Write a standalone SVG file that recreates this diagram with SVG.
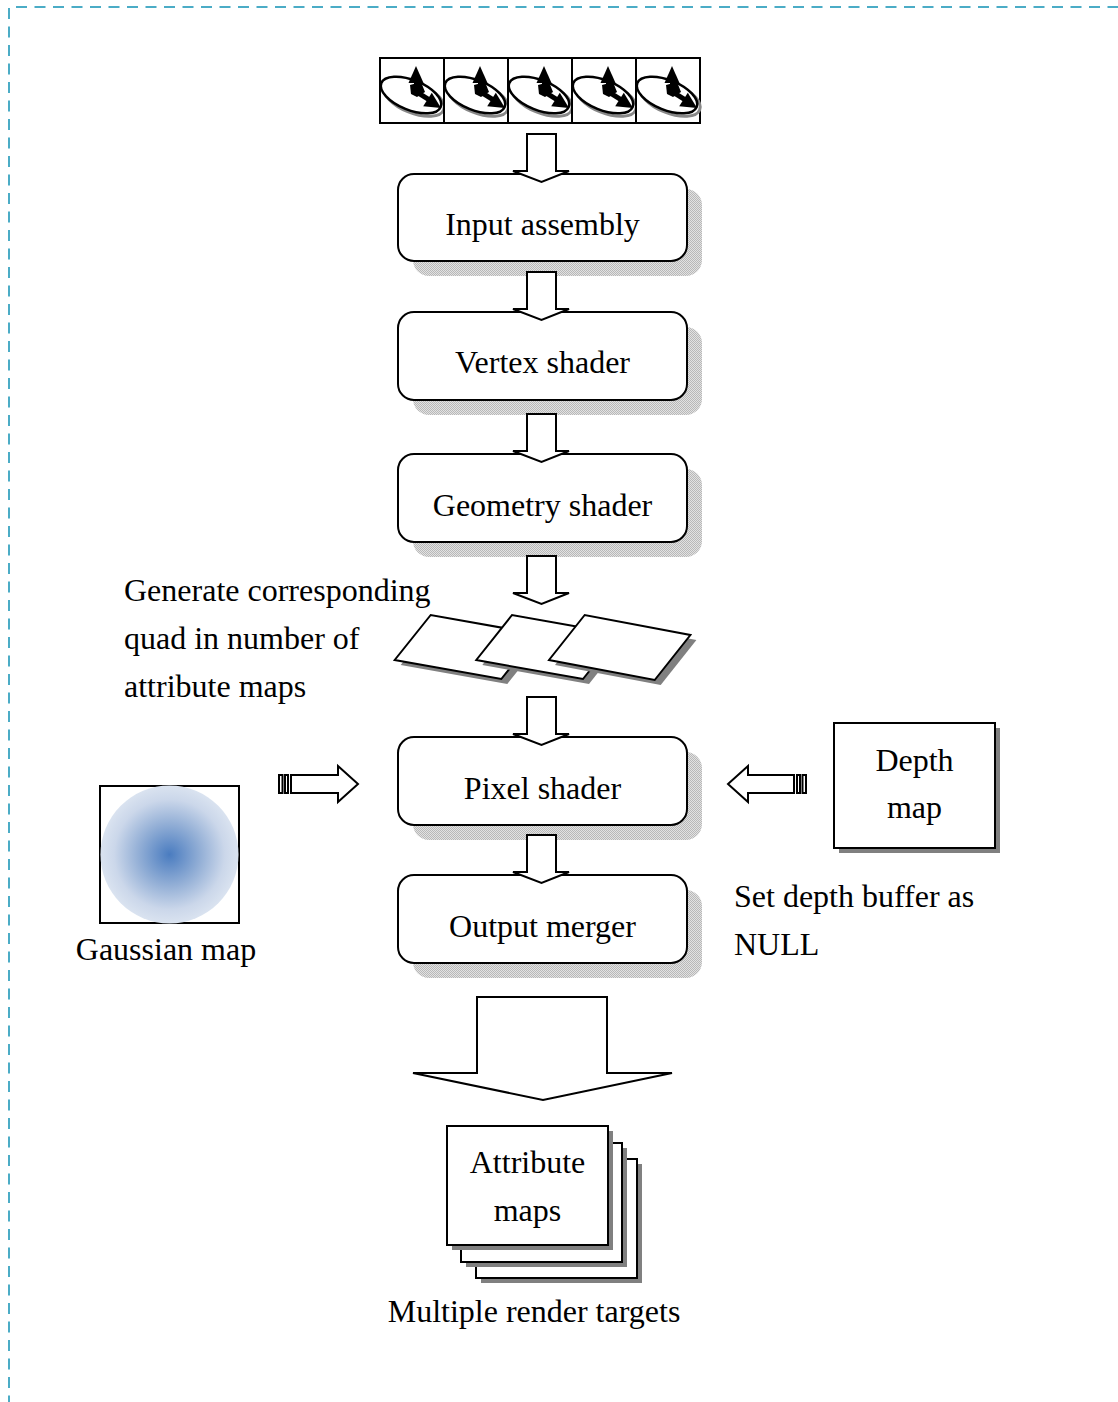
<svg xmlns="http://www.w3.org/2000/svg" xmlns:xlink="http://www.w3.org/1999/xlink" width="1118" height="1402" viewBox="0 0 1118 1402">
<style>
.t{font-family:"Liberation Serif","Times New Roman",serif;font-size:32px;fill:#000}
.c{text-anchor:middle}
.box{fill:#fff;stroke:#000;stroke-width:2}
.sh{fill:url(#dots)}
.gs{fill:#808080}
.arr{fill:#fff;stroke:#000;stroke-width:2;stroke-linejoin:miter}
.bd{fill:none;stroke:#4bacc6;stroke-width:2;stroke-dasharray:11 7.5}
</style>
<defs>
<pattern id="dots" width="2" height="2" patternUnits="userSpaceOnUse">
<rect width="2" height="2" fill="#e2e2e2"/>
<rect width="1" height="1" fill="#b8b8b8"/>
<rect x="1" y="1" width="1" height="1" fill="#b8b8b8"/>
</pattern>
<radialGradient id="gauss" cx="0.5" cy="0.5" r="0.5">
<stop offset="0" stop-color="#4a7cc0"/>
<stop offset="0.45" stop-color="#93afd6"/>
<stop offset="0.8" stop-color="#cbd7ea"/>
<stop offset="1" stop-color="#dae3f0"/>
</radialGradient>
<g id="cell">
<rect x="0" y="0" width="64" height="65" fill="#fff" stroke="#000" stroke-width="2"/>
<ellipse cx="34" cy="40" rx="32" ry="15" transform="rotate(22 34 40)" fill="none" stroke="#888" stroke-width="3"/>
<ellipse cx="31" cy="37" rx="32" ry="15" transform="rotate(22 31 37)" fill="#fff" stroke="#000" stroke-width="2.5"/>
<path d="M36,8 L28.5,25 L43.5,25 Z" fill="#000"/>
<path d="M34,22 H38 V34 H34 Z" fill="#000"/>
<path d="M30,27 L41,24 L45,34 L37,39 L31,36 Z" fill="#000"/>
<path d="M35,30 L51,40 L48,44 L32,34 Z" fill="#000"/>
<path d="M61,50 L43.2,48.3 L51.8,34.7 Z" fill="#000"/>
</g>
</defs>
<rect width="1118" height="1402" fill="#fff"/>

<g id="border">
<path class="bd" d="M16,7 H1118"/>
<path class="bd" d="M9,8 V1402"/>
</g>

<g id="vertex-strip">
<use xlink:href="#cell" x="380" y="58"/>
<use xlink:href="#cell" x="444" y="58"/>
<use xlink:href="#cell" x="508" y="58"/>
<use xlink:href="#cell" x="572" y="58"/>
<use xlink:href="#cell" x="636" y="58"/>
</g>

<g id="input-assembly">
<rect class="sh" x="413" y="189" width="289" height="87" rx="16"/>
<rect class="box" x="398" y="174" width="289" height="87" rx="16"/>
<text class="t c" x="542.5" y="235">Input assembly</text>
</g>

<g id="vertex-shader">
<rect class="sh" x="413" y="327" width="289" height="88" rx="16"/>
<rect class="box" x="398" y="312" width="289" height="88" rx="16"/>
<text class="t c" x="542.5" y="373">Vertex shader</text>
</g>

<g id="geometry-shader">
<rect class="sh" x="413" y="469" width="289" height="88" rx="16"/>
<rect class="box" x="398" y="454" width="289" height="88" rx="16"/>
<text class="t c" x="542.5" y="516">Geometry shader</text>
</g>

<g id="quads">
<polygon class="gs" points="436.7,620 400.7,665 507.3,684 543.3,639"/>
<polygon class="box" points="430.7,615 394.7,660 501.3,679 537.3,634"/>
<polygon class="gs" points="518,620 482.3,665 589,684 624.7,639"/>
<polygon class="box" points="512,615 476.3,660 583,679 618.7,634"/>
<polygon class="gs" points="590.7,620 555,665 660.7,685 696.4,640"/>
<polygon class="box" points="584.7,615 549,660 654.7,680 690.4,635"/>
</g>

<g id="quad-label">
<text class="t" x="124" y="601">Generate corresponding</text>
<text class="t" x="124" y="649">quad in number of</text>
<text class="t" x="124" y="697">attribute maps</text>
</g>

<g id="pixel-shader">
<rect class="sh" x="413" y="752" width="289" height="88" rx="16"/>
<rect class="box" x="398" y="737" width="289" height="88" rx="16"/>
<text class="t c" x="542.5" y="799">Pixel shader</text>
</g>

<g id="output-merger">
<rect class="sh" x="413" y="890" width="289" height="88" rx="16"/>
<rect class="box" x="398" y="875" width="289" height="88" rx="16"/>
<text class="t c" x="542.5" y="937">Output merger</text>
</g>

<g id="gaussian-map">
<rect class="box" x="100" y="786" width="139" height="137"/>
<circle cx="169.5" cy="854.5" r="69" fill="url(#gauss)"/>
<text class="t c" x="166" y="960">Gaussian map</text>
</g>

<g id="depth-map">
<rect class="gs" x="839" y="728" width="161" height="125"/>
<rect class="box" x="834" y="723" width="161" height="125"/>
<text class="t c" x="914.5" y="771">Depth</text>
<text class="t c" x="914.5" y="818">map</text>
</g>

<g id="depth-note">
<text class="t" x="734" y="907">Set depth buffer as</text>
<text class="t" x="734" y="955">NULL</text>
</g>

<g id="attribute-maps">
<rect class="gs" x="481" y="1164" width="161" height="119"/>
<rect class="box" x="476" y="1159" width="161" height="119"/>
<rect class="gs" x="466" y="1148" width="161" height="119"/>
<rect class="box" x="461" y="1143" width="161" height="119"/>
<rect class="gs" x="452" y="1131" width="161" height="119"/>
<rect class="box" x="447" y="1126" width="161" height="119"/>
<text class="t c" x="527.5" y="1173">Attribute</text>
<text class="t c" x="527.5" y="1221">maps</text>
<text class="t c" x="534" y="1322">Multiple render targets</text>
</g>

<g id="connectors">
<polygon class="arr" points="527,134 556,134 556,171 569,171 541.5,182 513,171 527,171"/>
<polygon class="arr" points="527,272 556,272 556,309 569,309 541.5,320 513,309 527,309"/>
<polygon class="arr" points="527,414 556,414 556,451 569,451 541.5,462 513,451 527,451"/>
<polygon class="arr" points="527,556 556,556 556,593 569,593 541.5,604 513,593 527,593"/>
<polygon class="arr" points="527,697 556,697 556,734 569,734 541.5,745 513,734 527,734"/>
<polygon class="arr" points="527,835 556,835 556,872 569,872 541.5,883 513,872 527,872"/>
<polygon class="arr" points="477,997 607,997 607,1073 672,1073 543,1100 413,1073 477,1073"/>
<g id="arrow-gauss">
<rect class="arr" x="279" y="775" width="3.5" height="18"/>
<rect class="arr" x="285" y="775" width="3" height="18"/>
<polygon class="arr" points="291,775 338,775 338,766 358,784 338,802 338,793 291,793"/>
</g>
<g id="arrow-depth">
<rect class="arr" x="802.5" y="775" width="3.5" height="18"/>
<rect class="arr" x="797" y="775" width="3" height="18"/>
<polygon class="arr" points="794,775 748,775 748,766 728,784 748,802 748,793 794,793"/>
</g>
</g>
</svg>
